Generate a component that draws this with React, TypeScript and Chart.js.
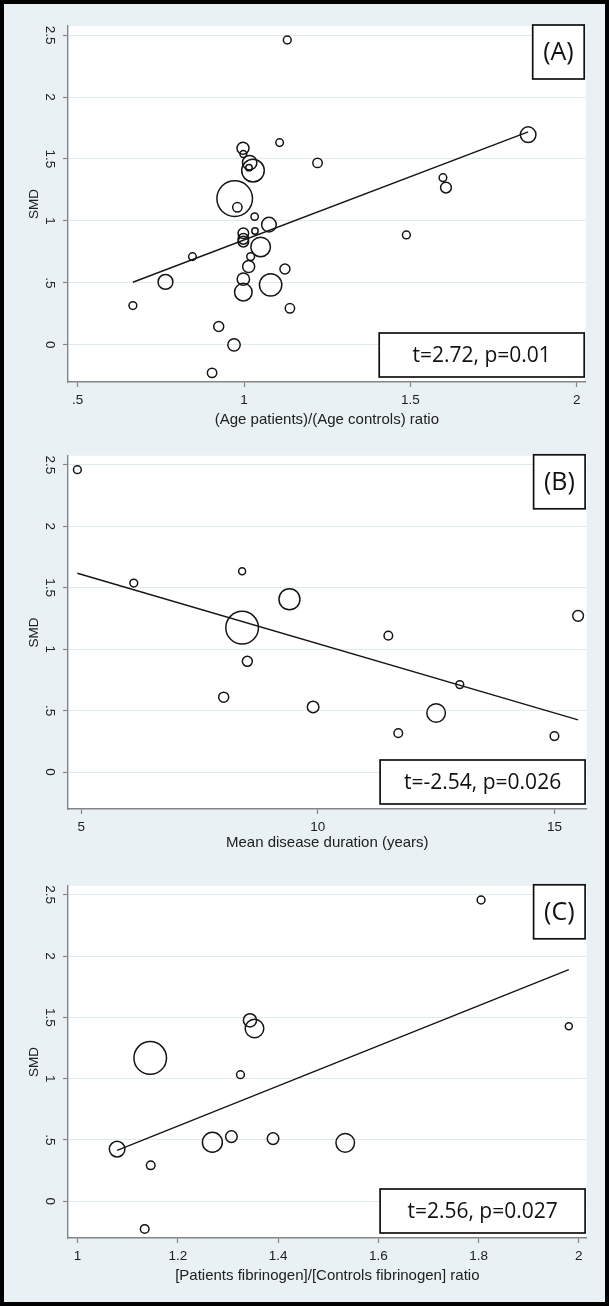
import React, { useEffect, useRef } from "react";
import { Chart, registerables } from "chart.js";

Chart.register(...registerables);

// ---------- Panel A : (Age patients)/(Age controls) ratio ----------
const ageRatioA = [1.130, 1.854, 1.107, 0.997, 0.998, 1.017, 1.015, 1.027, 1.221, 1.598, 1.607, 0.972, 0.980, 1.032, 1.075, 1.033, 0.998, 0.998, 0.998, 1.050, 0.845, 1.020, 1.488, 1.014, 1.123, 0.764, 0.998, 1.080, 0.998, 0.666, 1.138, 0.924, 0.970, 0.904];
const smdA = [2.46, 1.696, 1.632, 1.586, 1.540, 1.470, 1.430, 1.406, 1.468, 1.349, 1.269, 1.180, 1.110, 1.035, 0.970, 0.919, 0.901, 0.855, 0.833, 0.790, 0.712, 0.712, 0.887, 0.632, 0.612, 0.508, 0.530, 0.484, 0.425, 0.317, 0.295, 0.148, 0.0, -0.226];
const weightA = [3.9, 7.8, 3.8, 6, 3.4, 7.2, 3.2, 11.3, 4.7, 3.8, 5.4, 17.8, 4.7, 3.7, 7.3, 3.2, 5.3, 5.3, 5.3, 9.8, 3.8, 3.9, 3.9, 6, 5, 7.4, 6.2, 11.2, 8.8, 3.9, 4.7, 5, 6.2, 4.7];
const fitAx = [0.666, 1.854];
const fitAy = [0.505, 1.718];
const xTicksA = [0.5, 1, 1.5, 2];

// ---------- Panel B : Mean disease duration (years) ----------
const durationB = [4.918, 6.11, 8.40, 9.40, 8.40, 11.49, 15.50, 8.51, 8.01, 9.90, 13.0, 12.50, 11.70, 15.0];
const smdB = [2.46, 1.538, 1.634, 1.406, 1.175, 1.110, 1.271, 0.901, 0.610, 0.530, 0.712, 0.481, 0.317, 0.293];
const weightB = [3.9, 3.9, 3.5, 10.5, 16.3, 4.3, 5.4, 5, 5, 5.8, 3.9, 9.3, 4.3, 4.3];
const fitBx = [4.918, 15.50];
const fitBy = [1.618, 0.425];
const xTicksB = [5, 10, 15];

// ---------- Panel C : fibrinogen ratio ----------
const fibRatioC = [1.805, 1.980, 1.344, 1.353, 1.145, 1.325, 1.307, 1.390, 1.269, 1.534, 1.079, 1.146, 1.134];
const smdC = [2.457, 1.427, 1.476, 1.409, 1.169, 1.032, 0.527, 0.511, 0.481, 0.476, 0.425, 0.293, -0.226];
const weightC = [3.9, 3.5, 6.6, 9.3, 16.3, 3.9, 5.8, 5.8, 10, 9.3, 7.8, 4.3, 4.3];
const fitCx = [1.079, 1.980];
const fitCy = [0.414, 1.89];
const xTicksC = [1, 1.2, 1.4, 1.6, 1.8, 2];

// ---------- shared ----------
const yTicks = [0, 0.5, 1, 1.5, 2, 2.5];
const yTitle = "SMD";

const TEXT = "#202020";
const AXIS = "#858585";
const GRID = "#e0ebef";
const BG = "#eaf1f4";
const FONT = "'Liberation Sans', Arial, sans-serif";
const BOXFONT = "'Open Sans', 'Noto Sans', sans-serif";

function fmt(v: number): string {
  const s = String(Math.round(v * 1000) / 1000);
  return s.replace(/^0\./, ".").replace(/^-0\./, "-.");
}

type PanelCfg = {
  xs: number[];
  ys: number[];
  ws: number[];
  fx: number[];
  fy: number[];
  xTicks: number[];
  xMin: number;
  xMax: number;
  xTitle: string;
  letter: string;
  stat: string;
  top: number;
  height: number;
  padTop: number;
  xAxisH: number;
  xTitlePad: number;
};

const PANELS: PanelCfg[] = [
  {
    xs: ageRatioA, ys: smdA, ws: weightA, fx: fitAx, fy: fitAy, xTicks: xTicksA,
    xMin: 0.471, xMax: 2.027, xTitle: "(Age patients)/(Age controls) ratio",
    letter: "(A)", stat: "t=2.72, p=0.01",
    top: 0, height: 430, padTop: 22, xAxisH: 52, xTitlePad: 5,
  },
  {
    xs: durationB, ys: smdB, ws: weightB, fx: fitBx, fy: fitBy, xTicks: xTicksB,
    xMin: 4.72, xMax: 15.68, xTitle: "Mean disease duration (years)",
    letter: "(B)", stat: "t=-2.54, p=0.026",
    top: 434, height: 428, padTop: 15, xAxisH: 57, xTitlePad: 14,
  },
  {
    xs: fibRatioC, ys: smdC, ws: weightC, fx: fitCx, fy: fitCy, xTicks: xTicksC,
    xMin: 0.981, xMax: 2.0155, xTitle: "[Patients fibrinogen]/[Controls fibrinogen] ratio",
    letter: "(C)", stat: "t=2.56, p=0.027",
    top: 864, height: 432, padTop: 14, xAxisH: 62, xTitlePad: 15,
  },
];

const W = 601;

function Panel({ cfg }: { cfg: PanelCfg }) {
  const ref = useRef<HTMLCanvasElement>(null);
  useEffect(() => {
    const canvas = ref.current;
    if (!canvas) return;

    const plotBg = {
      id: "plotBg",
      beforeDraw(chart: any) {
        const { ctx, chartArea: a } = chart;
        ctx.save();
        ctx.fillStyle = "#ffffff";
        ctx.fillRect(a.left, a.top, a.right - a.left, a.bottom - a.top);
        ctx.restore();
      },
    };

    const boxes = {
      id: "boxes",
      afterDraw(chart: any) {
        const { ctx, chartArea: a } = chart;
        ctx.save();
        ctx.lineWidth = 1.7;
        ctx.strokeStyle = "#111";
        ctx.fillStyle = "#fff";
        // letter box
        const lx0 = a.right - 53, lx1 = a.right - 1.5, ly0 = a.top - 1, ly1 = a.top + 53;
        ctx.fillRect(lx0, ly0, lx1 - lx0, ly1 - ly0);
        ctx.strokeRect(lx0, ly0, lx1 - lx0, ly1 - ly0);
        // stat box
        const sx0 = a.right - 206.5, sx1 = a.right - 1.5, sy0 = a.bottom - 49, sy1 = a.bottom - 5;
        ctx.fillRect(sx0, sy0, sx1 - sx0, sy1 - sy0);
        ctx.strokeRect(sx0, sy0, sx1 - sx0, sy1 - sy0);
        ctx.fillStyle = "#111";
        ctx.textAlign = "center";
        ctx.textBaseline = "middle";
        ctx.font = `25px ${BOXFONT}`;
        ctx.fillText(cfg.letter, (lx0 + lx1) / 2, (ly0 + ly1) / 2 + 1);
        ctx.font = `21px ${BOXFONT}`;
        ctx.fillText(cfg.stat, (sx0 + sx1) / 2, (sy0 + sy1) / 2 + 1);
        ctx.restore();
      },
    };

    const chart = new Chart(canvas, {
      type: "bubble",
      data: {
        datasets: [
          {
            type: "bubble",
            data: cfg.xs.map((x, i) => ({ x, y: cfg.ys[i], r: cfg.ws[i] })),
            backgroundColor: "rgba(0,0,0,0)",
            borderColor: "#151515",
            borderWidth: 1.5,
            hoverRadius: 0,
          } as any,
          {
            type: "line",
            data: cfg.fx.map((x, i) => ({ x, y: cfg.fy[i] })),
            borderColor: "#151515",
            borderWidth: 1.4,
            pointRadius: 0,
            fill: false,
            tension: 0,
          } as any,
        ],
      },
      options: {
        animation: false,
        responsive: false,
        events: [],
        layout: { padding: { top: cfg.padTop, right: 18.4, left: 0, bottom: 0 } },
        plugins: {
          legend: { display: false },
          tooltip: { enabled: false },
          title: { display: false },
        },
        scales: {
          x: {
            type: "linear",
            position: "bottom",
            min: cfg.xMin,
            max: cfg.xMax,
            afterBuildTicks: (s: any) => {
              s.ticks = cfg.xTicks.map((v) => ({ value: v }));
            },
            afterFit: (s: any) => {
              s.height = cfg.xAxisH;
            },
            grid: {
              display: true,
              drawOnChartArea: false,
              drawTicks: true,
              tickLength: 5,
              tickColor: AXIS,
              tickWidth: 1.2,
            },
            border: { display: true, color: AXIS, width: 1.4 },
            ticks: {
              padding: 5,
              color: TEXT,
              autoSkip: false,
              maxRotation: 0,
              font: { family: FONT, size: 13.5 },
              callback: (v: any) => fmt(Number(v)),
            },
            title: {
              display: true,
              text: cfg.xTitle,
              color: TEXT,
              font: { family: FONT, size: 15 },
              padding: { top: 0, bottom: cfg.xTitlePad },
            },
          },
          y: {
            type: "linear",
            position: "left",
            min: -0.3,
            max: 2.573,
            afterBuildTicks: (s: any) => {
              s.ticks = yTicks.map((v) => ({ value: v }));
            },
            afterFit: (s: any) => {
              s.width = 64;
            },
            grid: {
              color: GRID,
              lineWidth: 1,
              drawTicks: true,
              tickLength: 5,
              tickColor: AXIS,
              tickWidth: 1.2,
            },
            border: { display: true, color: AXIS, width: 1.4 },
            ticks: {
              padding: 4,
              color: TEXT,
              autoSkip: false,
              crossAlign: "center",
              minRotation: -90,
              maxRotation: -90,
              font: { family: FONT, size: 13.5 },
              callback: (v: any) => fmt(Number(v)),
            },
            title: {
              display: true,
              text: yTitle,
              color: TEXT,
              font: { family: FONT, size: 13.5 },
              padding: { top: 22, bottom: 0 },
            },
          },
        },
      } as any,
      plugins: [plotBg, boxes],
    });
    return () => chart.destroy();
  }, [cfg]);

  return (
    <div style={{ position: "absolute", left: 0, top: cfg.top, width: W, height: cfg.height }}>
      <canvas
        ref={ref}
        width={W}
        height={cfg.height}
        style={{ width: W, height: cfg.height, display: "block" }}
      />
    </div>
  );
}

export default function App() {
  return (
    <div
      style={{
        position: "absolute",
        left: 0,
        top: 0,
        width: 609,
        height: 1306,
        boxSizing: "border-box",
        border: "4px solid #000",
        background: BG,
        overflow: "hidden",
      }}
    >
      {PANELS.map((p, i) => (
        <Panel key={i} cfg={p} />
      ))}
    </div>
  );
}
